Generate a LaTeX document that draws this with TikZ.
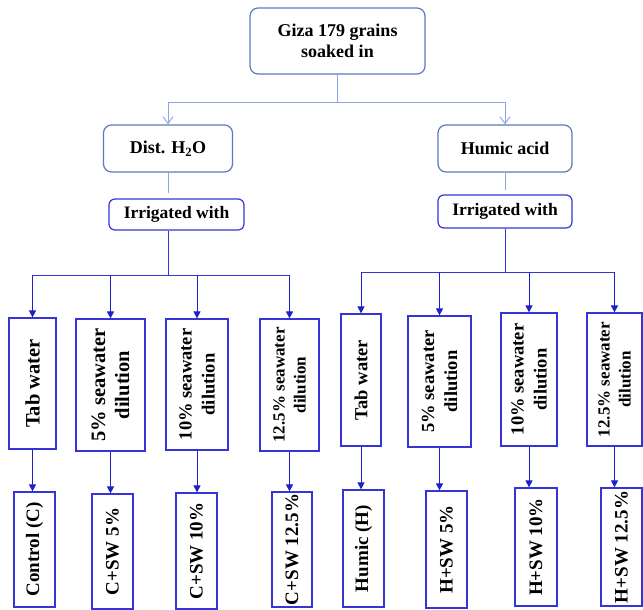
\documentclass[tikz,border=0pt]{standalone}
\usepackage{fontspec}
\setmainfont{Liberation Serif}
\usetikzlibrary{arrows.meta}

\definecolor{steel}{HTML}{5A7BB5}
\definecolor{pale}{HTML}{8FA3E6}
\definecolor{deep}{HTML}{3434D8}
\definecolor{dark}{HTML}{2020C8}

\begin{document}
\begin{tikzpicture}[x=1pt, y=-1pt,
  soakbox/.style={draw=steel, line width=1.2pt, rounded corners=8pt, align=center,
    font=\bfseries\fontsize{18}{21}\selectfont, inner sep=0pt},
  irrbox/.style={draw=deep, line width=1.2pt, rounded corners=6pt,
    font=\bfseries\fontsize{17.5}{21}\selectfont, inner sep=0pt},
  vbox/.style={draw=deep, line width=1.2pt, rotate=90, align=center, inner sep=0pt,
    font=\bfseries\fontsize{18.5}{23}\selectfont},
  bigtxt/.style={font=\bfseries\fontsize{20.5}{24}\selectfont},
  smalltxt/.style={font=\bfseries\fontsize{17}{21}\selectfont},
  endtxt/.style={font=\bfseries\fontsize{19}{23}\selectfont},
  thin/.style={draw=pale, line width=0.9pt},
  thinarr/.style={thin, -{Straight Barb[length=7pt,width=10pt]}},
  link/.style={draw=deep, line width=0.9pt},
  arr/.style={draw=dark, line width=0.9pt, -{Triangle[length=7pt,width=7pt]}}
]
\useasboundingbox (0,0) rectangle (643,610);

% Soaking
\node[soakbox, minimum width=175pt, minimum height=66pt] (giza) at (337.5,41) {Giza 179 grains\\soaked in};
\node[soakbox, minimum width=129pt, minimum height=47pt] (dist) at (168,148.5) {Dist. H\textsubscript{2}O};
\node[soakbox, minimum width=134pt, minimum height=47pt] (humic) at (505,148.5) {Humic acid};

\coordinate (busT) at (337.5,102);
\draw[thin] (giza.south) -- (busT);
\draw[thinarr] (busT) -| (dist.north);
\draw[thinarr] (busT) -| (humic.north);

% Irrigation
\node[irrbox, minimum width=135pt, minimum height=31pt] (irrL) at (176.5,214.5) {Irrigated with};
\node[irrbox, minimum width=134pt, minimum height=33pt] (irrR) at (505,211.5) {Irrigated with};
\draw[thin, shorten >=5pt] (dist.south) -- (dist.south |- irrL.north);
\draw[thin, shorten >=4pt] (humic.south) -- (humic.south |- irrR.north);

% Left branch
\node[vbox, bigtxt, minimum width=131pt, minimum height=47pt] (l1) at (32.5,383.5) {Tab\ water};
\node[vbox, bigtxt, minimum width=132pt, minimum height=69pt] (l2) at (110.5,385) {5\% seawater\\dilution};
\node[vbox, minimum width=131pt, minimum height=62pt] (l3) at (197,384.5) {10\% seawater\\dilution};
\node[vbox, smalltxt, minimum width=132pt, minimum height=59pt] (l4) at (289.5,385) {12.5\% seawater\\dilution};

\node[vbox, endtxt, minimum width=115pt, minimum height=41pt] (lb1) at (34.5,549.5) {Control (C)};
\node[vbox, endtxt, minimum width=115pt, minimum height=41pt] (lb2) at (112.5,551.5) {C+SW 5\%};
\node[vbox, endtxt, minimum width=116pt, minimum height=41pt] (lb3) at (196.5,551) {C+SW 10\%};
\node[vbox, endtxt, minimum width=115pt, minimum height=40pt] (lb4) at (292,549.5) {C+SW 12.5\%};

\coordinate (busL) at (168,275);
\draw[link] (irrL.south -| busL) -- (busL);
\draw[link] (l1.east |- busL) -- (l4.east |- busL);
\foreach \n in {l1,l2,l3,l4}
  \draw[arr] (\n.east |- busL) -- (\n.east);
\foreach \n/\m in {l1/lb1,l2/lb2,l3/lb3,l4/lb4}
  \draw[arr] (\n.west) -- (\n.west |- \m.east);

% Right branch
\node[vbox, minimum width=132pt, minimum height=40pt] (r1) at (361,380) {Tab\ water};
\node[vbox, minimum width=131pt, minimum height=63pt] (r2) at (439.5,381.5) {5\% seawater\\dilution};
\node[vbox, minimum width=133pt, minimum height=56pt] (r3) at (529,379.5) {10\% seawater\\dilution};
\node[vbox, smalltxt, minimum width=133pt, minimum height=55pt] (r4) at (614.5,379.5) {12.5\% seawater\\dilution};

\node[vbox, endtxt, minimum width=117pt, minimum height=41pt] (rb1) at (363.5,548.5) {Humic (H)};
\node[vbox, endtxt, minimum width=117pt, minimum height=41pt] (rb2) at (446.5,549.5) {H+SW 5\%};
\node[vbox, endtxt, minimum width=118pt, minimum height=42pt] (rb3) at (536,547) {H+SW 10\%};
\node[vbox, endtxt, minimum width=118pt, minimum height=41pt] (rb4) at (621.5,547) {H+SW 12.5\%};

\coordinate (busR) at (505,272);
\draw[link] (irrR.south -| busR) -- (busR);
\draw[link] (r1.east |- busR) -- (r4.east |- busR);
\foreach \n in {r1,r2,r3,r4}
  \draw[arr] (\n.east |- busR) -- (\n.east);
\foreach \n/\m in {r1/rb1,r2/rb2,r3/rb3,r4/rb4}
  \draw[arr] (\n.west) -- (\n.west |- \m.east);

\end{tikzpicture}
\end{document}
